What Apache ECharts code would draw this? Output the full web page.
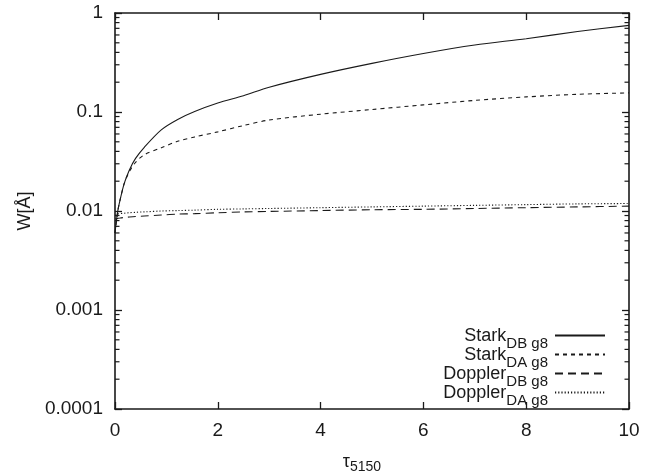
<!DOCTYPE html>
<html>
<head>
<meta charset="UTF-8">
<title>W vs tau</title>
<script src="https://cdn.jsdelivr.net/npm/echarts@6/dist/echarts.min.js"></script>
<style>
  html, body { margin: 0; padding: 0; background: #fff; }
  #chart { width: 645px; height: 474px; }
</style>
</head>
<body>
<div id="chart"></div>
<script>
// tau_5150 sample points
var tau = [0, 0.05, 0.1, 0.18, 0.28, 0.4, 0.57, 0.9, 1.22, 1.55, 2, 2.5, 3, 4, 5, 6, 7, 8, 9, 10];
// widths W [Å]
var starkDB   = [0.006, 0.0097, 0.013, 0.019, 0.026, 0.034, 0.044, 0.066, 0.084, 0.101, 0.123, 0.146, 0.178, 0.24, 0.31, 0.39, 0.475, 0.55, 0.65, 0.75];
var starkDA   = [0.006, 0.0097, 0.013, 0.019, 0.025, 0.031, 0.037, 0.0435, 0.0506, 0.056, 0.063, 0.073, 0.083, 0.095, 0.106, 0.118, 0.131, 0.142, 0.151, 0.156];
var dopplerDB = [0.0083, 0.0084, 0.0085, 0.0086, 0.0087, 0.0088, 0.0089, 0.0091, 0.0093, 0.0094, 0.0096, 0.0098, 0.0099, 0.0101, 0.0103, 0.0104, 0.0106, 0.0108, 0.011, 0.0112];
var dopplerDA = [0.009, 0.0093, 0.0094, 0.0095, 0.0096, 0.0097, 0.0098, 0.01, 0.0101, 0.0102, 0.0104, 0.0105, 0.0106, 0.0108, 0.011, 0.0112, 0.0114, 0.0116, 0.0118, 0.0119];

var seriesNames = ['StarkDB', 'StarkDA', 'DopplerDB', 'DopplerDA'];
var legendMain = { StarkDB: 'Stark', StarkDA: 'Stark', DopplerDB: 'Doppler', DopplerDA: 'Doppler' };
var legendSub  = { StarkDB: 'DB g8', StarkDA: 'DA g8', DopplerDB: 'DB g8', DopplerDA: 'DA g8' };

// log axis tick labels and minor tick values (2..9 per decade)
var yTickLabels = { '0.0001': '0.0001', '0.001': '0.001', '0.01': '0.01', '0.1': '0.1', '1': '1' };
var minorTicks = [];
[0.0001, 0.001, 0.01, 0.1].forEach(function (d) {
    for (var k = 2; k <= 9; k++) minorTicks.push(d * k);
});

function pairs(ys) {
    return tau.map(function (t, i) { return [t, ys[i]]; });
}

var font = 'Liberation Sans, Arial, Helvetica, sans-serif';
var ink = '#1a1a1a';

function frameLine() {
    return { show: true, onZero: false, lineStyle: { color: ink, width: 1.6 } };
}
function majorTick() {
    return { show: true, inside: true, length: 7, lineStyle: { color: ink, width: 1.3 } };
}

function lineSeries(name, ys, dash) {
    return {
        name: name,
        type: 'line',
        data: pairs(ys),
        showSymbol: false,
        symbol: 'none',
        smooth: 0.3,
        lineStyle: { color: ink, width: 1.1, type: dash },
        itemStyle: { color: ink },
        z: 3
    };
}

// minor ticks along the left (x=0) and right (x=10) frame edges
function minorTickSeries(edge, offset) {
    return {
        name: 'minor' + edge,
        type: 'scatter',
        silent: true,
        clip: false,
        symbol: 'rect',
        symbolSize: [4.5, 1.2],
        symbolOffset: [offset, 0],
        itemStyle: { color: ink, opacity: 1 },
        data: minorTicks.map(function (v) { return [edge, v]; }),
        z: 10
    };
}

var chart = echarts.init(document.getElementById('chart'));

chart.setOption({
    animation: false,
    backgroundColor: '#fff',
    grid: { left: 115, right: 16, top: 13, bottom: 65, containLabel: false, outerBoundsMode: 'none' },
    legend: {
        data: seriesNames,
        orient: 'vertical',
        right: 34,
        top: 322,
        align: 'right',
        itemWidth: 50,
        itemHeight: 10,
        itemGap: -5,
        itemStyle: { opacity: 0 },
        formatter: function (n) {
            return '{m|' + legendMain[n] + '}{s|' + legendSub[n] + '}';
        },
        textStyle: {
            color: ink,
            fontFamily: font,
            padding: [0, 2, 0, 0],
            rich: {
                m: { fontSize: 18, fontFamily: font, color: ink, lineHeight: 17, verticalAlign: 'top' },
                s: { fontSize: 15, fontFamily: font, color: ink, lineHeight: 13, padding: [9, 0, 0, 0], verticalAlign: 'top' }
            }
        }
    },
    xAxis: [{
        type: 'value',
        min: 0, max: 10, interval: 2,
        name: '{t|τ}{s|5150}',
        nameLocation: 'middle',
        nameGap: 44,
        nameTextStyle: {
            color: ink,
            padding: [0, 20, 0, 0],
            rich: {
                t: { fontSize: 18, fontFamily: font, color: ink, lineHeight: 16, verticalAlign: 'top' },
                s: { fontSize: 14, fontFamily: font, color: ink, lineHeight: 14, padding: [7, 0, 0, 0], verticalAlign: 'top' }
            }
        },
        axisLine: frameLine(),
        axisTick: majorTick(),
        axisLabel: { color: ink, fontSize: 19, fontFamily: font, margin: 12 },
        splitLine: { show: false }
    }, {
        type: 'value',
        position: 'top',
        min: 0, max: 10, interval: 2,
        axisLine: frameLine(),
        axisTick: majorTick(),
        axisLabel: { show: false },
        splitLine: { show: false }
    }],
    yAxis: [{
        type: 'log',
        logBase: 10,
        position: 'left',
        min: 0.0001, max: 1,
        name: 'W[Å]',
        nameLocation: 'middle',
        nameGap: 75,
        nameRotate: 90,
        nameTextStyle: { color: ink, fontSize: 18, fontFamily: font },
        axisLine: frameLine(),
        axisTick: majorTick(),
        axisLabel: {
            color: ink, fontSize: 19, fontFamily: font, margin: 12,
            formatter: function (v) {
                var key = String(parseFloat(v.toPrecision(6)));
                return yTickLabels[key] !== undefined ? yTickLabels[key] : key;
            }
        },
        splitLine: { show: false }
    }, {
        type: 'log',
        logBase: 10,
        position: 'right',
        min: 0.0001, max: 1,
        axisLine: frameLine(),
        axisTick: majorTick(),
        axisLabel: { show: false },
        splitLine: { show: false }
    }],
    series: [
        lineSeries('StarkDB', starkDB, 'solid'),
        lineSeries('StarkDA', starkDA, [4, 4]),
        lineSeries('DopplerDB', dopplerDB, [8, 5]),
        lineSeries('DopplerDA', dopplerDA, [1.2, 2]),
        minorTickSeries(0, 2.25),
        minorTickSeries(10, -2.25)
    ]
});
</script>
</body>
</html>
